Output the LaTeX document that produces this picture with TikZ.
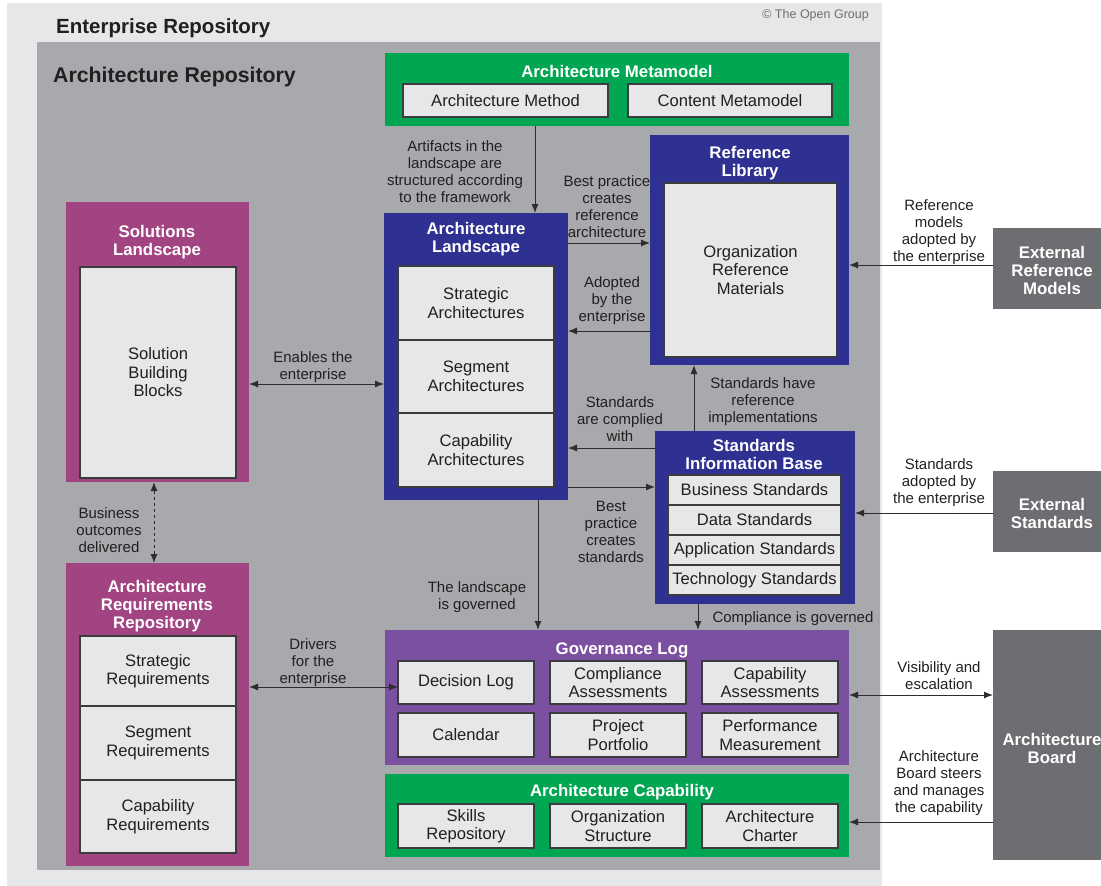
\documentclass[tikz,border=0pt]{standalone}
\usepackage{fontspec}
\setmainfont{Liberation Sans}
\usetikzlibrary{arrows.meta,fit}
\definecolor{lightbg}{RGB}{230,231,232}
\definecolor{repobg}{RGB}{167,169,172}
\definecolor{tgreen}{RGB}{0,166,81}
\definecolor{tblue}{RGB}{46,49,146}
\definecolor{tmag}{RGB}{163,68,130}
\definecolor{tpurp}{RGB}{123,80,160}
\definecolor{extgray}{RGB}{109,110,113}
\definecolor{boxfill}{RGB}{230,231,232}
\definecolor{boxline}{RGB}{60,60,62}
\definecolor{txt}{RGB}{35,31,32}
\definecolor{arrcol}{RGB}{45,45,45}
\definecolor{copyc}{RGB}{110,110,112}
\begin{document}
\begin{tikzpicture}[x=1pt,y=-1pt,
  area/.style={inner sep=0pt,outer sep=0pt},
  ibox/.style={draw=boxline,line width=1.1pt,fill=boxfill,inner sep=0pt,outer sep=0pt},
  itxt/.style={align=center,text=txt,inner sep=0pt,font=\fontsize{16.6}{18.5}\selectfont},
  hdr/.style={text=white,font=\bfseries\fontsize{16.8}{18}\selectfont,align=center,inner sep=0pt,yshift=-2pt},
  lbl/.style={text=txt,font=\fontsize{15}{17}\selectfont,align=center,inner sep=0pt,yshift=-2pt},
  title/.style={text=txt,font=\bfseries\fontsize{20.5}{24}\selectfont,inner sep=0pt},
  arr/.style={draw=arrcol,line width=1pt,-{Latex[length=9pt,width=7pt]}},
  darr/.style={draw=arrcol,line width=1pt,{Latex[length=9pt,width=7pt]}-{Latex[length=9pt,width=7pt]}},
]
\useasboundingbox (0,0) rectangle (1101,886);
% backgrounds
\node[area,fill=lightbg,fit={(7,3)(882,886)}] (ent) {};
\node[area,fill=repobg,fit={(37,42)(880,870)}] (repo) {};
\node[title,anchor=base west] (entt) at (56,33) {Enterprise Repository};
\node[title,anchor=base west,font=\bfseries\fontsize{21.3}{24}\selectfont] (repot) at (53,82) {Architecture Repository};
\node[anchor=base east,inner sep=0pt,text=copyc,font=\fontsize{12.5}{14}\selectfont] (copy) at (869,19) {\textcopyright{} The Open Group};

% Architecture Metamodel
\node[area,fill=tgreen,fit={(385,53)(849,126)}] (meta) {};
\node[hdr] (metah) at (617,69) {Architecture Metamodel};
\node[ibox,fit={(403,84)(608,117)}] (am) {};
\node[itxt] at (am.center) {Architecture Method};
\node[ibox,fit={(628,84)(832,117)}] (cm) {};
\node[itxt] at (cm.center) {Content Metamodel};

% Reference Library
\node[area,fill=tblue,fit={(650,135)(849,365)}] (ref) {};
\node[hdr] (refh) at (750,161) {Reference\\Library};
\node[ibox,fit={(664,183)(837,357)}] (orm) {};
\node[itxt] at (orm.center) {Organization\\Reference\\Materials};

% Architecture Landscape
\node[area,fill=tblue,fit={(384,213)(568,500)}] (land) {};
\node[hdr] (landh) at (476,237.5) {Architecture\\Landscape};
\node[ibox,fit={(398,266)(554,340)}] (sa) {};
\node[itxt] at (sa.center) {Strategic\\Architectures};
\node[ibox,fit={(398,340)(554,413)}] (sega) {};
\node[itxt] at (sega.center) {Segment\\Architectures};
\node[ibox,fit={(398,413)(554,487)}] (ca) {};
\node[itxt] at (ca.center) {Capability\\Architectures};

% Solutions Landscape
\node[area,fill=tmag,fit={(66,202)(249,482)}] (sol) {};
\node[hdr] (solh) at (157,240) {Solutions\\Landscape};
\node[ibox,fit={(80,267)(236,478)}] (sbb) {};
\node[itxt] at (sbb.center) {Solution\\Building\\Blocks};

% Architecture Requirements Repository
\node[area,fill=tmag,fit={(66,563)(249,866)}] (req) {};
\node[hdr] (reqh) at (157,604.5) {Architecture\\Requirements\\Repository};
\node[ibox,fit={(80,636)(236,706)}] (sr) {};
\node[itxt] at (sr.center) {Strategic\\Requirements};
\node[ibox,fit={(80,706)(236,780)}] (segr) {};
\node[itxt] at (segr.center) {Segment\\Requirements};
\node[ibox,fit={(80,780)(236,853)}] (cr) {};
\node[itxt] at (cr.center) {Capability\\Requirements};

% Standards Information Base
\node[area,fill=tblue,fit={(655,431)(855,604)}] (sib) {};
\node[hdr] (sibh) at (754,452.5) {Standards\\Information Base};
\node[ibox,fit={(668,475)(841,505)}] (bs) {};
\node[itxt] at (bs.center) {Business Standards};
\node[ibox,fit={(668,505)(841,535)}] (ds) {};
\node[itxt] at (ds.center) {Data Standards};
\node[ibox,fit={(668,535)(841,565)}] (aps) {};
\node[itxt] at (aps.center) {Application Standards};
\node[ibox,fit={(668,565)(841,595)}] (ts) {};
\node[itxt] at (ts.center) {Technology Standards};

% Governance Log
\node[area,fill=tpurp,fit={(385,630)(849,765)}] (gov) {};
\node[hdr] (govh) at (622,648) {Governance Log};
\node[ibox,fit={(398,661)(534,704)}] (declog) {};
\node[itxt] at (declog.center) {Decision Log};
\node[ibox,fit={(550,661)(686,704)}] (compa) {};
\node[itxt] at (compa.center) {Compliance\\Assessments};
\node[ibox,fit={(702,661)(838,704)}] (capa) {};
\node[itxt] at (capa.center) {Capability\\Assessments};
\node[ibox,fit={(398,713)(534,757)}] (cal) {};
\node[itxt] at (cal.center) {Calendar};
\node[ibox,fit={(550,713)(686,757)}] (pp) {};
\node[itxt] at (pp.center) {Project\\Portfolio};
\node[ibox,fit={(702,713)(838,757)}] (pm) {};
\node[itxt] at (pm.center) {Performance\\Measurement};

% Architecture Capability
\node[area,fill=tgreen,fit={(385,774)(849,857)}] (cap) {};
\node[hdr] (caph) at (622,790) {Architecture Capability};
\node[ibox,fit={(398,804)(534,848)}] (skr) {};
\node[itxt] at (skr.center) {Skills\\Repository};
\node[ibox,fit={(550,804)(686,848)}] (orgs) {};
\node[itxt] at (orgs.center) {Organization\\Structure};
\node[ibox,fit={(702,804)(838,848)}] (ach) {};
\node[itxt] at (ach.center) {Architecture\\Charter};

% External boxes
\node[area,fill=extgray,fit={(993,228)(1101,309)}] (extref) {};
\node[hdr] (extrefh) at (1052,268) {External\\Reference\\Models};
\node[area,fill=extgray,fit={(993,471)(1101,552)}] (extstd) {};
\node[hdr] (extstdh) at (1052,511.5) {External\\Standards};
\node[area,fill=extgray,fit={(993,630)(1101,860)}] (board) {};
\node[hdr] (boardh) at (1052,746) {Architecture\\Board};

% helper levels
\coordinate (x535) at (535,0);
\coordinate (x538) at (538,0);
\coordinate (x694) at (694,0);
\coordinate (x698) at (698,0);
\coordinate (x154) at (154,0);
\coordinate (y243) at (0,243);
\coordinate (y331) at (0,331);
\coordinate (y448) at (0,448);
\coordinate (y487) at (0,487);
\coordinate (y384) at (0,384);
\coordinate (y687) at (0,687);
\coordinate (y265) at (0,265);
\coordinate (y513) at (0,513);
\coordinate (y695) at (0,695);
\coordinate (y822) at (0,822);

% connectors
\draw[arr] (meta.south -| x535) -- (land.north -| x535);
\draw[arr] (land.east |- y243) -- (ref.west |- y243);
\draw[arr] (ref.west |- y331) -- (land.east |- y331);
\draw[arr] (sib.north -| x694) -- (ref.south -| x694);
\draw[arr] (sib.west |- y448) -- (land.east |- y448);
\draw[arr] (land.east |- y487) -- (sib.west |- y487);
\draw[arr] (land.south -| x538) -- (gov.north -| x538);
\draw[arr] (sib.south -| x698) -- (gov.north -| x698);
\draw[darr] (sol.east |- y384) -- (land.west |- y384);
\draw[darr,dashed] (sol.south -| x154) -- (req.north -| x154);
\draw[darr] (req.east |- y687) -- (declog.west |- y687);
\draw[arr] (extref.west |- y265) -- (ref.east |- y265);
\draw[arr] (extstd.west |- y513) -- (sib.east |- y513);
\draw[darr] (gov.east |- y695) -- (board.west |- y695);
\draw[arr] (board.west |- y822) -- (cap.east |- y822);

% labels
\node[lbl] (l1) at (455,169.5) {Artifacts in the\\landscape are\\structured according\\to the framework};
\node[lbl] (l2) at (607,204.5) {Best practice\\creates\\reference\\architecture};
\node[lbl] (l3) at (612,299) {Adopted\\by the\\enterprise};
\node[lbl] (l4) at (620,417) {Standards\\are complied\\with};
\node[lbl] (l5) at (763,400) {Standards have\\reference\\implementations};
\node[lbl] (l6) at (611,529.5) {Best\\practice\\creates\\standards};
\node[lbl] (l7) at (477,595.5) {The landscape\\is governed};
\node[lbl] (l8) at (793,617) {Compliance is governed};
\node[lbl] (l9) at (313,365.5) {Enables the\\enterprise};
\node[lbl] (l10) at (109,528.5) {Business\\outcomes\\delivered};
\node[lbl] (l11) at (313,661) {Drivers\\for the\\enterprise};
\node[lbl] (l12) at (939,230.5) {Reference\\models\\adopted by\\the enterprise};
\node[lbl] (l13) at (939,481) {Standards\\adopted by\\the enterprise};
\node[lbl] (l14) at (939,673.5) {Visibility and\\escalation};
\node[lbl] (l15) at (939,781.5) {Architecture\\Board steers\\and manages\\the capability};
\end{tikzpicture}
\end{document}
